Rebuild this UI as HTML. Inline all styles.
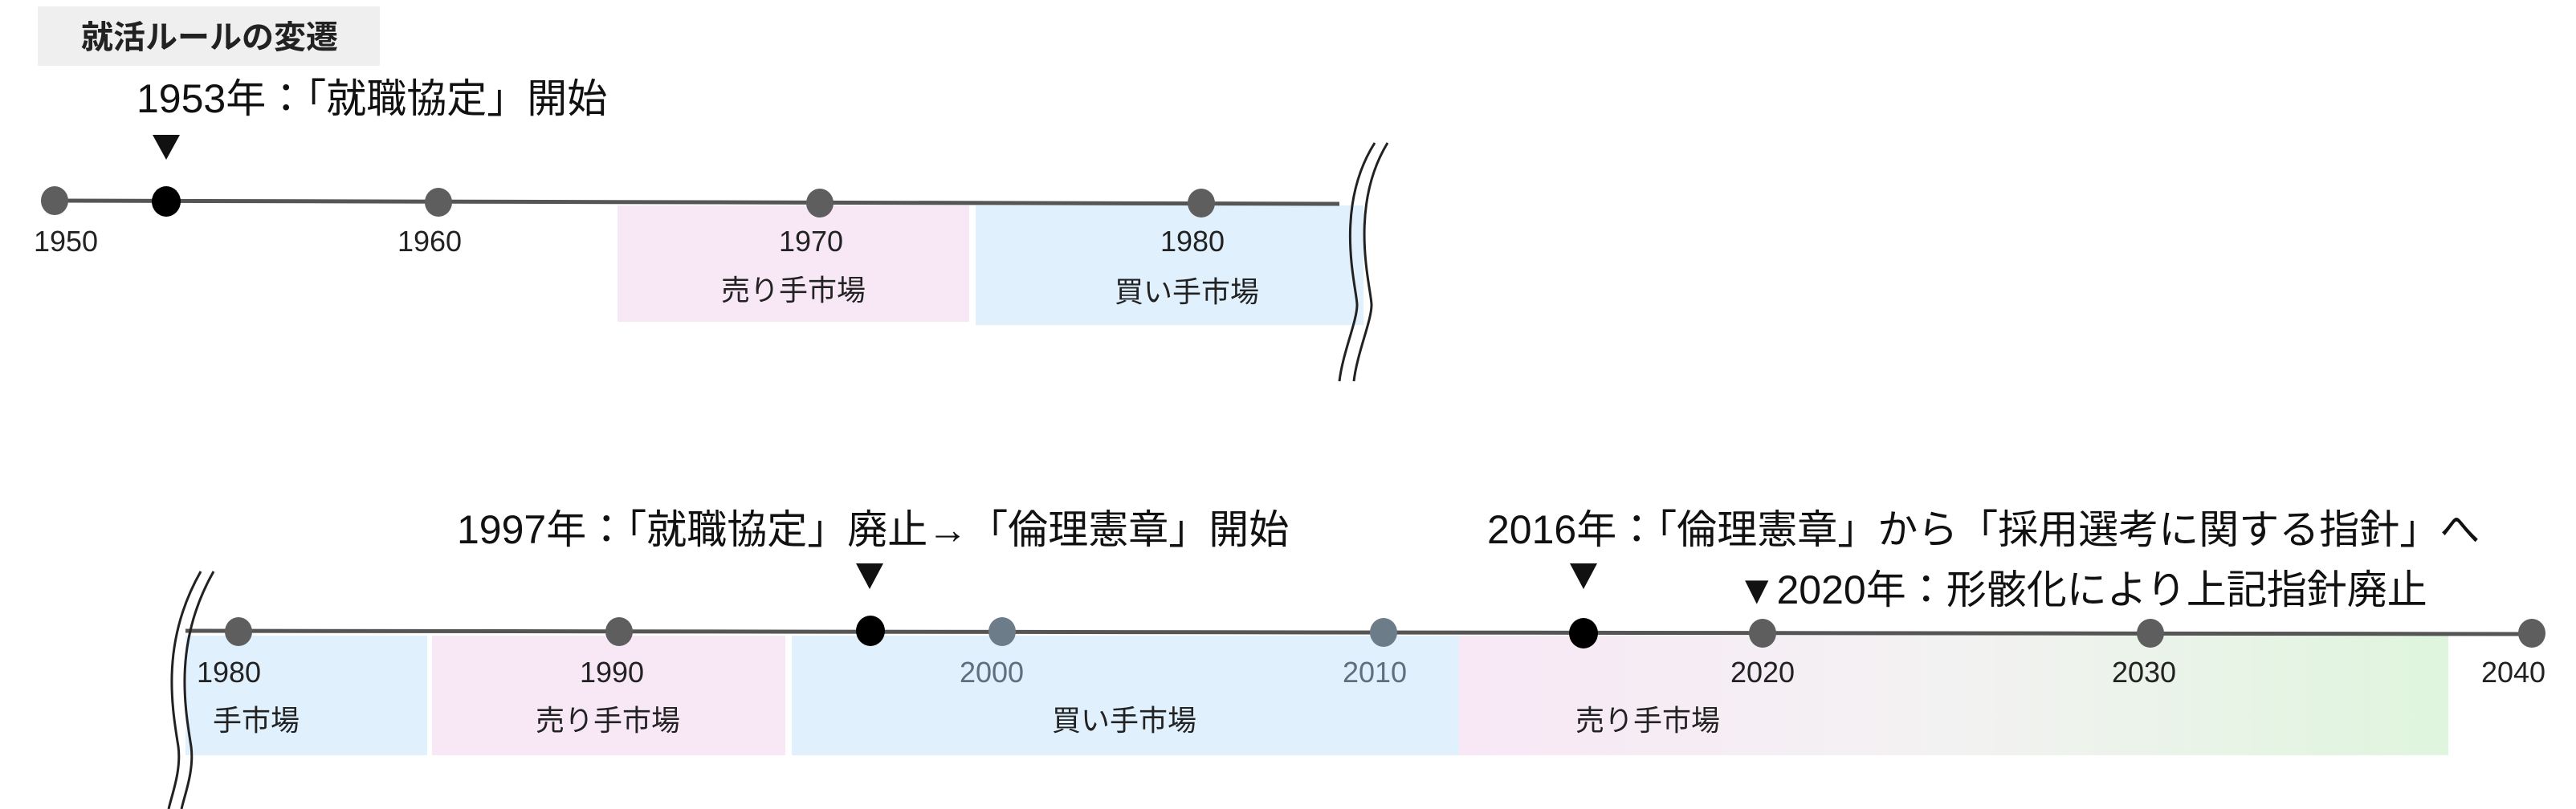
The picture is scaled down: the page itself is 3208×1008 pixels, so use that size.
<!DOCTYPE html>
<html><head><meta charset="utf-8"><style>
html,body{margin:0;padding:0;background:#fff;}
svg{display:block;}
text{font-family:"Liberation Sans","Noto Sans CJK JP",sans-serif;}
</style></head><body>
<svg width="3208" height="1008" viewBox="0 0 3208 1008" xmlns="http://www.w3.org/2000/svg">
<defs>
<linearGradient id="g1" x1="0" x2="1" y1="0" y2="0">
<stop offset="0" stop-color="#f8e8f6"/>
<stop offset="0.5" stop-color="#f3f2f2"/>
<stop offset="1" stop-color="#dff5dd"/>
</linearGradient>
<clipPath id="c1"><rect x="262" y="850" width="300" height="100"/></clipPath>
</defs>
<!-- title -->
<rect x="47" y="8" width="426" height="74" fill="#efefef"/>
<text x="261" y="60" font-size="40" font-weight="bold" text-anchor="middle" fill="#222">就活ルールの変遷</text>

<!-- top timeline -->
<rect x="769" y="256" width="438" height="145" fill="#f8e8f6"/>
<rect x="1215" y="256" width="483" height="149" fill="#e0f0fd"/>
<line x1="68" y1="250" x2="1668" y2="254" stroke="#555" stroke-width="5"/>
<g fill="#5e5e5e">
<ellipse cx="68" cy="250" rx="17" ry="18"/>
<ellipse cx="546" cy="252" rx="17" ry="18"/>
<ellipse cx="1021" cy="253" rx="17" ry="18"/>
<ellipse cx="1496" cy="253" rx="17" ry="18"/>
</g>
<ellipse cx="207" cy="251" rx="18" ry="19" fill="#000"/>
<g font-size="36" fill="#222" text-anchor="middle">
<text x="82" y="313">1950</text>
<text x="535" y="313">1960</text>
<text x="1010" y="313">1970</text>
<text x="1485" y="313">1980</text>
<text x="988" y="374">売り手市場</text>
<text x="1478" y="376">買い手市場</text>
</g>
<text x="170" y="140" font-size="50" fill="#111">1953年：「就職協定」開始</text>
<polygon points="190,168 224,168 207,199" fill="#111"/>
<!-- top break -->
<path d="M1712,178 C1660,260 1690,360 1690,380 C1690,400 1672,440 1668,475" fill="none" stroke="#222" stroke-width="3"/>
<path d="M1728,178 C1678,260 1708,360 1708,380 C1708,400 1690,440 1686,475" fill="none" stroke="#222" stroke-width="3"/>

<!-- bottom timeline -->
<rect x="231" y="792" width="301" height="149" fill="#e0f0fd"/>
<rect x="538" y="792" width="440" height="149" fill="#f8e8f6"/>
<rect x="986" y="792" width="831" height="149" fill="#e0f0fd"/>
<rect x="1817" y="792" width="1232" height="149" fill="url(#g1)"/>
<line x1="231" y1="786" x2="3153" y2="790" stroke="#555" stroke-width="5"/>
<g fill="#5e5e5e">
<ellipse cx="297" cy="787" rx="17" ry="18"/>
<ellipse cx="771" cy="787" rx="17" ry="18"/>
<ellipse cx="2195" cy="789" rx="17" ry="18"/>
<ellipse cx="2678" cy="789" rx="17" ry="18"/>
<ellipse cx="3153" cy="789" rx="17" ry="18"/>
</g>
<g fill="#6d7c89">
<ellipse cx="1248" cy="787" rx="17" ry="18"/>
<ellipse cx="1723" cy="788" rx="17" ry="18"/>
</g>
<ellipse cx="1084" cy="786" rx="18" ry="19" fill="#000"/>
<ellipse cx="1972" cy="789" rx="18" ry="19" fill="#000"/>
<g font-size="36" fill="#222" text-anchor="middle">
<text x="285" y="850">1980</text>
<text x="762" y="850">1990</text>
<text x="1235" y="850" fill="#5f6f7e">2000</text>
<text x="1712" y="850" fill="#5f6f7e">2010</text>
<text x="2195" y="850">2020</text>
<text x="2670" y="850">2030</text>
<text x="3130" y="850">2040</text>
<text x="283" y="910" clip-path="url(#c1)">買い手市場</text>
<text x="757" y="910">売り手市場</text>
<text x="1400" y="910">買い手市場</text>
<text x="2052" y="910">売り手市場</text>
</g>
<rect x="150" y="700" width="70" height="308" fill="#fff"/>
<!-- bottom break -->
<path d="M250,712 C200,800 214,880 222,930 C226,960 214,990 210,1008" fill="none" stroke="#222" stroke-width="3"/>
<path d="M266,712 C216,800 230,880 238,930 C242,960 230,990 226,1008" fill="none" stroke="#222" stroke-width="3"/>

<text x="569" y="677" font-size="50" fill="#111">1997年：「就職協定」廃止→「倫理憲章」開始</text>
<polygon points="1066,702 1100,702 1083,734" fill="#111"/>
<text x="1852" y="677" font-size="50" fill="#111">2016年：「倫理憲章」から「採用選考に関する指針」へ</text>
<polygon points="1955,702 1989,702 1972,734" fill="#111"/>
<text x="2163" y="752" font-size="50" fill="#111">▼2020年：形骸化により上記指針廃止</text>
</svg>
</body></html>
